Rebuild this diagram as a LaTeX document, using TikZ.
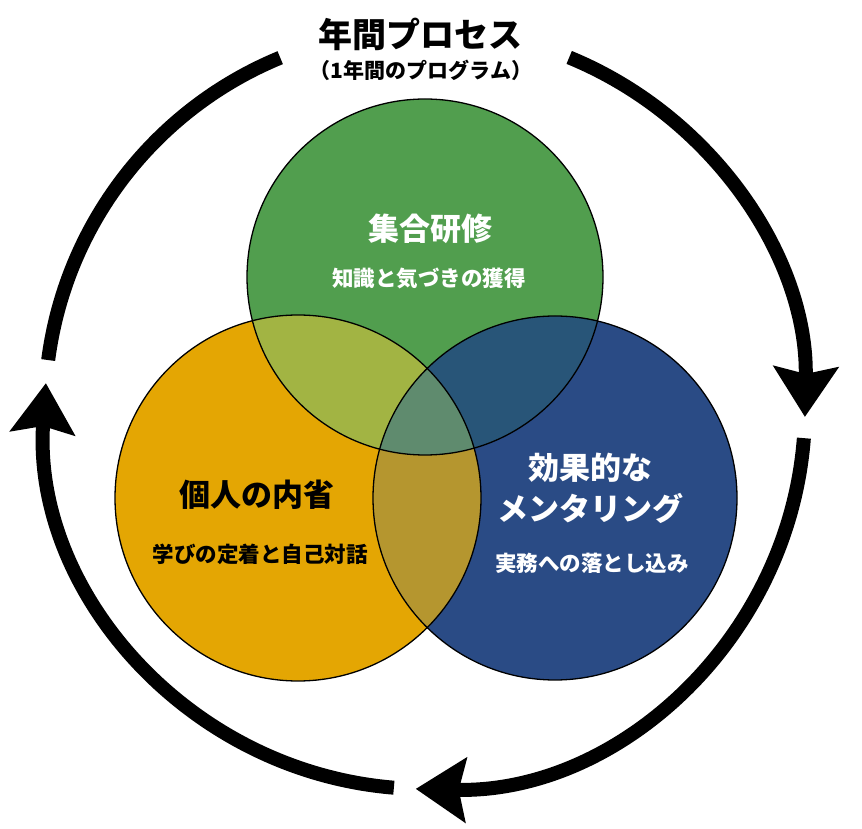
\documentclass[tikz,border=0pt]{standalone}
\usepackage{fontspec}
\newfontfamily\jp{Noto Sans CJK JP}
\usetikzlibrary{arrows.meta}
\definecolor{cgreen}{HTML}{519E4E}
\definecolor{corange}{HTML}{E4A603}
\definecolor{cblue}{HTML}{2A4B85}
\definecolor{cgo}{HTML}{A2B443}
\definecolor{cgb}{HTML}{285578}
\definecolor{cob}{HTML}{B5962F}
\definecolor{cgob}{HTML}{5F8B6E}
\tikzset{
  ringline/.style={line width=14pt, line cap=butt, black},
  bigarrow/.style={-{Stealth[length=50pt,width=64pt,inset=7pt]}},
  outline/.style={draw=black, line width=1.3pt},
  bigtext/.style={font=\jp\bfseries\fontsize{31pt}{41pt}\selectfont, align=center, inner sep=0pt},
  smalltext/.style={font=\jp\bfseries\fontsize{21.5pt}{26pt}\selectfont, inner sep=0pt},
}
\begin{document}
\begin{tikzpicture}[x=1pt,y=1pt]
\useasboundingbox (0,0) rectangle (862,828);
\coordinate (ring) at (425,419);
\coordinate (G) at (425,551);
\coordinate (O) at (298,330);
\coordinate (B) at (555,330);
\def\rg{178}\def\ro{183}\def\rb{182}
% base circles
\fill[cgreen] (G) circle[radius=\rg];
\fill[corange] (O) circle[radius=\ro];
\fill[cblue] (B) circle[radius=\rb];
% pairwise overlaps
\begin{scope}\clip (G) circle[radius=\rg]; \fill[cgo] (O) circle[radius=\ro];\end{scope}
\begin{scope}\clip (G) circle[radius=\rg]; \fill[cgb] (B) circle[radius=\rb];\end{scope}
\begin{scope}\clip (O) circle[radius=\ro]; \fill[cob] (B) circle[radius=\rb];\end{scope}
\begin{scope}\clip (G) circle[radius=\rg]; \clip (O) circle[radius=\ro]; \fill[cgob] (B) circle[radius=\rb];\end{scope}
% outlines
\draw[outline] (G) circle[radius=\rg];
\draw[outline] (O) circle[radius=\ro];
\draw[outline] (B) circle[radius=\rb];
% ring
\draw[ringline] (ring) ++(172.6:380) arc[start angle=172.6, end angle=112.4, radius=380];
\draw[ringline,bigarrow] (ring) ++(67.7:380) arc[start angle=67.7, end angle=-1.2, radius=380];
\draw[ringline,bigarrow] (ring) ++(-4.4:380) arc[start angle=-4.4, end angle=-91.4, radius=380];
\draw[ringline,bigarrow] (ring) ++(-94.7:380) arc[start angle=-94.7, end angle=-183.9, radius=380];
% texts
\node[font=\jp\bfseries\fontsize{34pt}{40pt}\selectfont, inner sep=0pt] (title) at (420,794) {年間プロセス};
\node[font=\jp\bfseries\fontsize{21pt}{26pt}\selectfont, inner sep=0pt] (subtitle) at (421,758) {（1年間のプログラム）};
\node[bigtext, text=white] (gt) at (430,599) {集合研修};
\node[smalltext, text=white] (gs) at (429,550) {知識と気づきの獲得};
\node[bigtext, text=black] (ot) at (257,333) {個人の内省};
\node[smalltext, text=black] (os) at (260,274) {学びの定着と自己対話};
\node[bigtext, text=white] (bt) at (590,340) {効果的な\\メンタリング};
\node[smalltext, text=white] (bs) at (592,265) {実務への落とし込み};
\end{tikzpicture}
\end{document}
